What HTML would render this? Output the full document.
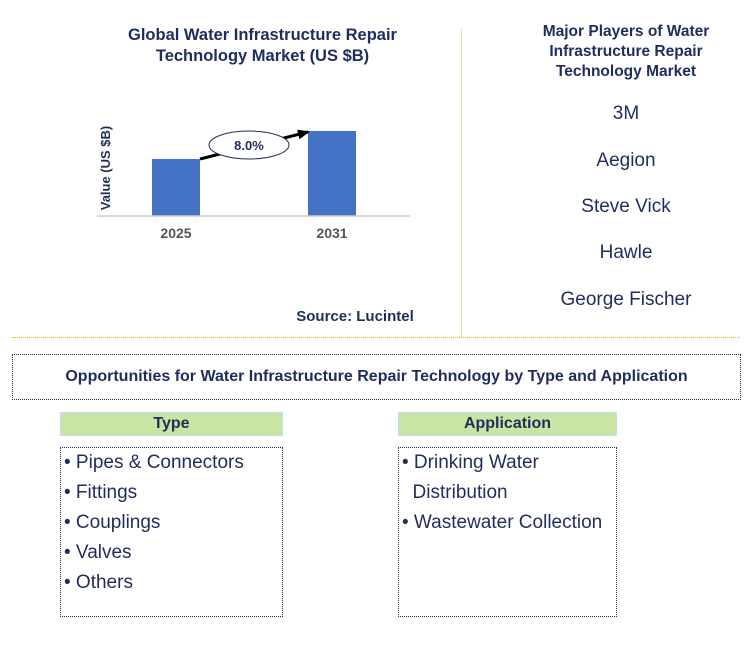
<!DOCTYPE html>
<html><head><meta charset="utf-8"><style>
body{margin:0;width:755px;height:657px;background:#fff;font-family:"Liberation Sans",Arial,sans-serif;position:relative;overflow:hidden}
.a{position:absolute}
.t{color:#1f2d5c;font-weight:bold;text-align:center}
.pl{color:#1f2d5c;font-size:19px;text-align:center}
.hdr{background:#c9e5a4;border:1px solid #bde0f0;color:#1f2d5c;font-weight:bold;font-size:16px;text-align:center;line-height:22px;height:22px}
.lst{border:1px dotted #1f2d5c;color:#1f2d5c;font-size:19px;line-height:30px;box-sizing:border-box;padding:0 0 0 3px}
</style></head><body>
<div class="a t" style="left:95px;top:25px;width:335px;font-size:16.5px;line-height:21px">Global Water Infrastructure Repair Technology Market (US $B)</div>
<svg class="a" style="left:0;top:0" width="461" height="337">
<defs><marker id="ah" markerUnits="userSpaceOnUse" markerWidth="12" markerHeight="10" refX="10" refY="5" orient="auto"><path d="M0,0 L12,5 L0,10 z" fill="#000"/></marker></defs>
<g id="g"></g>
<text x="110" y="168" transform="rotate(-90 110 168)" text-anchor="middle" font-weight="bold" font-size="13" fill="#1f2d5c">Value (US $B)</text>
<line x1="97" y1="216" x2="410" y2="216" stroke="#ccc" stroke-width="1.5"/>
</svg>
<div class="a t" style="left:280px;top:308px;width:150px;font-size:15px">Source: Lucintel</div>
<div class="a" style="left:461px;top:28px;height:309px;border-left:1px dotted #e8b84a"></div>
<div class="a" style="left:12px;top:337px;width:728px;border-top:1px dotted #f0b400"></div>
<div class="a t" style="left:512px;top:22px;width:228px;font-size:15.5px;line-height:20px">Major Players of Water Infrastructure Repair Technology Market</div>
<div class="a pl" style="top:103px;left:478px;width:296px">3M</div>
<div class="a pl" style="top:150px;left:478px;width:296px">Aegion</div>
<div class="a pl" style="top:196px;left:478px;width:296px">Steve Vick</div>
<div class="a pl" style="top:242px;left:478px;width:296px">Hawle</div>
<div class="a pl" style="top:289px;left:478px;width:296px">George Fischer</div>
<div class="a t" style="left:12px;top:354px;width:727px;height:44px;line-height:44px;border:1px dotted #1f2d5c;font-size:16px">Opportunities for Water Infrastructure Repair Technology by Type and Application</div>
<div class="a hdr" style="left:60px;top:412px;width:221px">Type</div>
<div class="a hdr" style="left:398px;top:412px;width:217px">Application</div>
<div class="a lst" style="left:60px;top:447px;width:223px;height:170px">• Pipes &amp; Connectors<br>• Fittings<br>• Couplings<br>• Valves<br>• Others</div>
<div class="a lst" style="left:398px;top:447px;width:219px;height:170px">• Drinking Water<br>&nbsp;&nbsp;Distribution<br>• Wastewater Collection</div>
<script>
const categories=["2025","2031"];
const values=[5.7,8.5];
const cagrLabel="8.0%";
const ns="http://www.w3.org/2000/svg";
const g=document.getElementById('g');
const x=i=>176+i*156, y=v=>216-v*10, bw=48;
function mk(t,a){const e=document.createElementNS(ns,t);for(const k in a)e.setAttribute(k,a[k]);g.appendChild(e);return e;}
categories.forEach((c,i)=>{
 const r=mk('rect',{x:x(i)-bw/2,y:y(values[i]),width:bw,height:216-y(values[i]),fill:'#4472c4'});
 
 
 const t=mk('text',{x:x(i),y:238,'text-anchor':'middle','font-weight':'bold','font-size':14,fill:'#555'});
 t.textContent=c;
 
 
});
const ar=mk('line',{x1:x(0)+bw/2,y1:y(values[0]),x2:x(1)-bw/2,y2:y(values[1])+1,stroke:'#000','stroke-width':3,'marker-end':'url(#ah)'});


const el=mk('ellipse',{cx:249,cy:145,rx:40,ry:14,fill:'#fff',stroke:'#1f2d5c','stroke-width':1});


const ct=mk('text',{x:249,y:150,'text-anchor':'middle','font-weight':'bold','font-size':13,fill:'#1f2d5c'});
ct.textContent=cagrLabel;


</script>
</body></html>
